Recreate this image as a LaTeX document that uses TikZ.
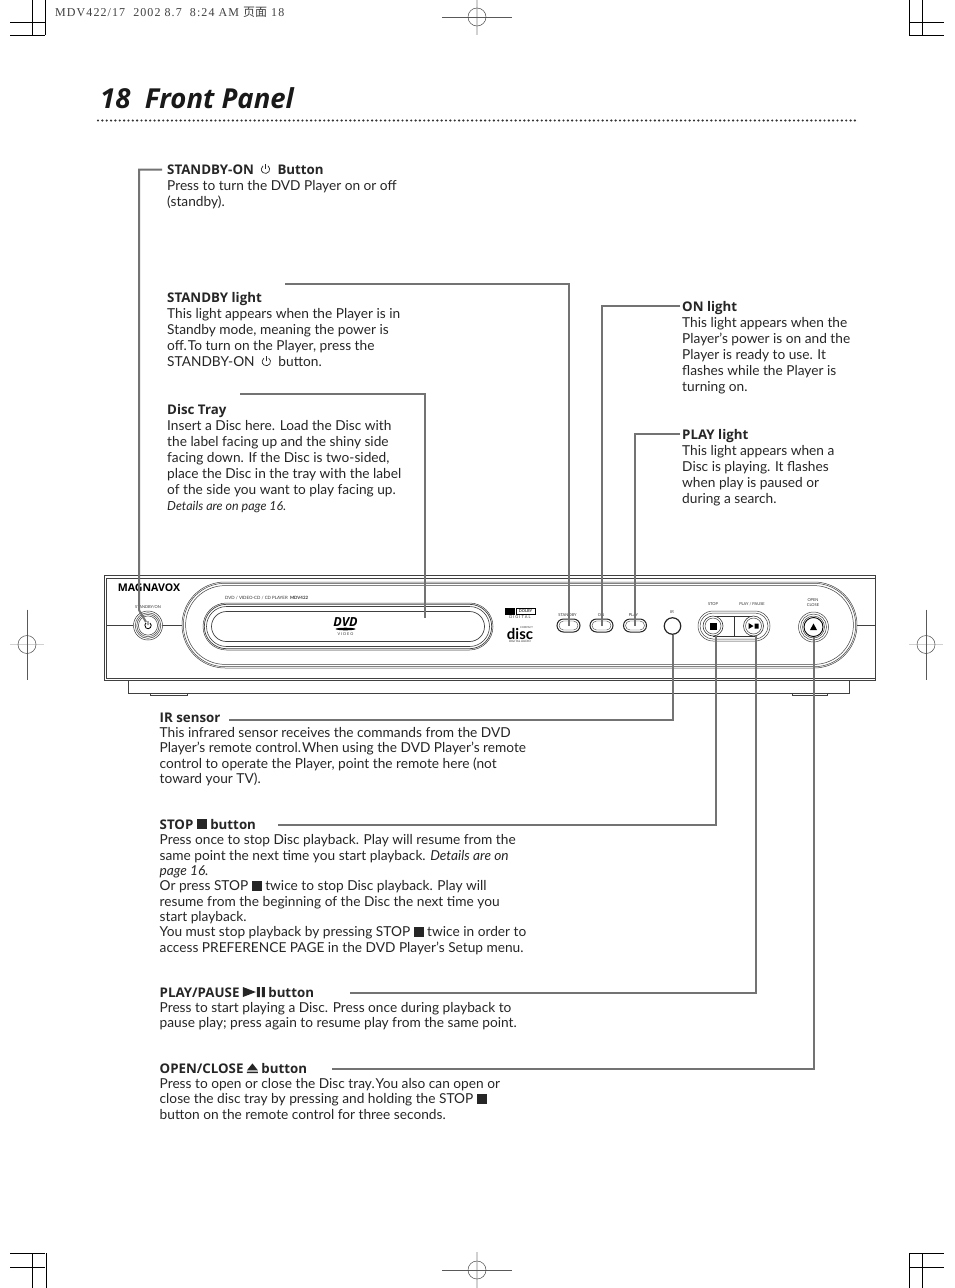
\documentclass[tikz,border=0pt]{standalone}
\usepackage{fontspec}
\setmainfont{Lato}
\newfontfamily\hdf{Open Sans}
\newfontfamily\cjkf{Noto Sans CJK SC}
\newfontfamily\serf[LetterSpace=9]{Liberation Serif}
\newfontfamily\djv{DejaVu Sans}
\newcommand{\pw}{\tikz[baseline=0pt,x=1pt,y=1pt,line width=.7pt]{\draw (0,4.8) -- (0,9.8); \draw (2.4,8.2) arc[start angle=55,delta angle=-290,radius=4.2pt];}}
\newcommand{\sq}{\tikz[baseline=0pt]{\fill[black!85] (0,-.3pt) rectangle (10pt,9.7pt);}}
\newcommand{\plp}{\tikz[baseline=0pt]{\fill[black!85] (0,0)--(0,10pt)--(13pt,5pt)--cycle (14pt,0) rectangle (17pt,10pt) (19pt,0) rectangle (22pt,10pt);}}
\newcommand{\ejt}{\tikz[baseline=0pt]{\fill[black!85] (0,0) rectangle (11pt,1.4pt) (0,2.6pt)--(11pt,2.6pt)--(5.5pt,9.6pt)--cycle;}}
\begin{document}
\begin{tikzpicture}[x=1pt,y=-1pt,
 pagebg/.style={fill=white,draw=none},
 hd/.style={anchor=base west,inner sep=0pt,text=black!85,font=\fontsize{13.3}{16}\selectfont\hdf\bfseries},
 bd/.style={anchor=north west,inner sep=0pt,align=left,text=black!85,font=\fontsize{13.7}{16}\selectfont},
 bdt/.style={bd,font=\fontsize{13.7}{15.35}\selectfont},
 leader/.style={draw=black!55,line width=2pt,line cap=butt,line join=miter},
 reg/.style={draw=black,line width=.7pt},
 regg/.style={draw=black!18,line width=1.4pt},
 regd/.style={draw=black!65,line width=.7pt},
 dev/.style={draw=black!75,line width=.5pt},
 tiny/.style={inner sep=0pt,text=black!80,font=\fontsize{4}{5}\selectfont,align=center},
 pill/.style={rounded corners=6.5pt,draw=black!85,line width=1pt,minimum width=23pt,minimum height=13pt,inner sep=0pt},
]
\useasboundingbox[pagebg] (0,0) rectangle (954,1288);
% --- registration marks
\draw[reg] (10,22.5)--(45,22.5) (10,35)--(45,35) (32,0)--(32,35) (45,0)--(45,35);
\draw[reg] (909,22.5)--(944,22.5) (909,35)--(944,35) (909,0)--(909,35) (922,0)--(922,35);
\draw[reg] (10,1253)--(45,1253) (10,1267)--(45,1267) (32,1253)--(32,1288) (46,1253)--(46,1288);
\draw[reg] (909,1253)--(944,1253) (909,1267)--(944,1267) (909,1253)--(909,1288) (922,1253)--(922,1288);
\foreach \cx/\cy in {477/17,477/1270}{
 \draw[regg] (\cx,\cy-18)--(\cx,\cy+18);
 \draw[regd] (\cx-35,\cy)--(\cx+35,\cy);
 \draw[draw=black!70,line width=.5pt] (\cx,\cy) circle[radius=9];
}
\foreach \cx/\cy in {27/644.5,926/644.5}{
 \draw[regg] (\cx-17,\cy)--(\cx+17,\cy);
 \draw[regd] (\cx,\cy-35)--(\cx,\cy+35);
 \draw[draw=black!70,line width=.5pt] (\cx,\cy) circle[radius=9];
}
\node[anchor=base west,inner sep=0pt,text=black!75,font=\fontsize{12}{14}\selectfont\serf] (stamp) at (55,16) {MDV422/17\ \ 2002 8.7\ \ 8:24 AM {\cjkf 页面} 18};
% --- title
\node[anchor=base west,inner sep=0pt,text=black!90,font=\fontsize{27.5}{32}\selectfont\hdf\bfseries\itshape] (title) at (100,108) {18\ \ Front Panel};
\draw[black!80,line width=2.4pt,line cap=round,dash pattern=on 0pt off 4.35pt] (98,120.5)--(857,120.5);
% --- device
\draw[dev,line width=.8pt] (128,680)--(128,693)--(849,693)--(849,680);
\draw[dev] (150,693)--(150,695)--(187,695)--(187,693);
\draw[dev] (792,693)--(792,695)--(827,695)--(827,693);
\draw[dev,line width=.9pt] (104,575) rectangle (875,680);
\draw[dev,line width=.4pt] (106,578)--(875,578) (106,578)--(106,678)--(875,678);
\foreach \o in {0,1.3,3.6}{
 \draw[dev,rounded corners=43pt-\o pt] (182+\o,582+\o) rectangle (857-\o,668-\o);}
\foreach \o/\w in {0/.5,1.3/.7,3.5/.6,8.5/.7}{
 \draw[dev,line width=\w pt,rounded corners=23.5pt-\o pt] (203+\o,603+\o) rectangle (493-\o,650-\o);}
\draw[dev] (106,625)--(133,625) (163,625)--(182,625) (857,625)--(875,625);
% power button
\node[circle,draw=black!80,line width=.5pt,inner sep=0pt,minimum size=29pt] (power) at (148,625.5) {};
\draw[dev] (power.center) circle[radius=12.8] (power.center) circle[radius=11.2] (power.center) circle[radius=9.6];
\draw[black,line width=.8pt] (150.06,623.05) arc[start angle=-50,delta angle=280,radius=3.2] (148,621)--(148,625);
% lights
\node[pill] (lstandby) at (568.5,625.5) {};
\node[pill] (lon) at (601.5,625.5) {};
\node[pill] (lplay) at (635,625.5) {};
\foreach \c in {568.5,601.5,635}{
 \draw[dev,line width=.4pt,rounded corners=4.5pt] (\c-9.5,621) rectangle (\c+9.5,630);}
\node[circle,draw=black!85,line width=1.2pt,inner sep=0pt,minimum size=16.5pt] (ir) at (672.5,626) {};
\draw[dev,rounded corners=15pt] (698,611) rectangle (770,641);
\draw[dev,rounded corners=13pt] (700,613) rectangle (768,639);
\draw[black!80,line width=.8pt] (713,616)--(755,616) (713,636)--(755,636) (734,616)--(734,636);
\node[circle,draw=black!80,fill=white,line width=.6pt,inner sep=0pt,minimum size=20pt] (bstop) at (713,626) {};
\draw[dev] (bstop.center) circle[radius=8];
\fill[black] (709.5,622.5) rectangle (716.5,629.5);
\node[circle,draw=black!80,fill=white,line width=.6pt,inner sep=0pt,minimum size=20pt] (bplay) at (753.5,626) {};
\draw[dev] (bplay.center) circle[radius=8];
\fill[black] (748.5,623)--(753.5,626)--(748.5,629)--cycle (754.5,623.5) rectangle (758.5,628.5);
\node[circle,draw=black,line width=.9pt,inner sep=0pt,minimum size=19pt] (bopen) at (813.5,627) {};
\draw[dev] (bopen.center) circle[radius=15] (bopen.center) circle[radius=13] (bopen.center) circle[radius=11];
\fill[black] (810,630)--(813.5,623.5)--(817,630)--cycle;
% device text
\node[inner sep=0pt,text=black,font=\fontsize{10.6}{12}\selectfont\hdf\bfseries] (brand) at (149,587.5) {MAGNAVOX};
\node[tiny] (tson) at (148,607.5) {STANDBY/ON};
\node[tiny,anchor=west,font=\fontsize{4.4}{5}\selectfont] (tmodel) at (225,598) {DVD / VIDEO-CD / CD PLAYER\ \ \textbf{MDV422}};
\node[inner sep=0pt,text=black,font=\fontsize{12.5}{12}\selectfont\hdf\bfseries\itshape] (dvd) at (345.5,622.5) {DVD};
\fill[black] (345.5,629) ellipse[x radius=10,y radius=1.3];
\node[tiny,font=\fontsize{3.8}{4}\selectfont] (video) at (345.5,634.5) {V I D E O};
\fill[black] (505,608) rectangle (514.5,614.5);
\draw[black,line width=.5pt] (516,608) rectangle (535,614.5);
\node[tiny,font=\fontsize{4}{5}\selectfont\bfseries] (dolby) at (525.5,611.3) {DOLBY};
\node[tiny,font=\fontsize{4}{5}\selectfont] (digital) at (520,617.5) {D I G I T A L};
\node[inner sep=0pt,text=black,font=\fontsize{15}{15}\selectfont\bfseries] (cdisc) at (520,633.5) {disc};
\node[tiny,font=\fontsize{2.6}{4}\selectfont,anchor=west] (ccomp) at (520,628) {COMPACT};
\node[tiny,font=\fontsize{3}{4}\selectfont] (cdig) at (520,641.5) {DIGITAL AUDIO};
\node[tiny] (tstandby) at (567.5,615.5) {STANDBY};
\node[tiny] (ton) at (601,615.5) {ON};
\node[tiny] (tplay) at (633.5,615.5) {PLAY};
\node[tiny] (tir) at (672,612) {IR};
\node[tiny] (tstop) at (713,604.5) {STOP};
\node[tiny] (tpp) at (752,604.5) {PLAY / PAUSE};
\node[tiny] (topen) at (813,602.5) {OPEN\\[0pt]CLOSE};
\node[inner sep=0pt] (disctray) at (425,618) {};
% --- text blocks
\node[hd] (h1) at (167,174) {STANDBY-ON\ \ \pw\ \ Button};
\node[bd] (b1) at (167,180) {Press to turn the DVD Player on or off\\(standby).};
\node[hd] (h2) at (167,302) {STANDBY light};
\node[bd] (b2) at (167,308) {This light appears when the Player is in\\Standby mode, meaning the power is\\off.\kern1pt To turn on the Player, press the\\STANDBY-ON\ \ \pw\ \ button.};
\node[hd] (h3) at (167,414) {Disc Tray};
\node[bd] (b3) at (167,420) {Insert a Disc here. Load the Disc with\\the label facing up and the shiny side\\facing down. If the Disc is two-sided,\\place the Disc in the tray with the label\\of the side you want to play facing up.\\{\itshape\fontsize{12.5}{16}\selectfont Details are on page 16.}};
\node[hd] (h4) at (682,311) {ON light};
\node[bd] (b4) at (682,317) {This light appears when the\\Player’s power is on and the\\Player is ready to use. It\\flashes while the Player is\\turning on.};
\node[hd] (h5) at (682,439) {PLAY light};
\node[bd] (b5) at (682,445) {This light appears when a\\Disc is playing. It flashes\\when play is paused or\\during a search.};
\node[hd] (h6) at (159.5,722) {IR sensor};
\node[bdt] (b6) at (159.5,727) {This infrared sensor receives the commands from the DVD\\Player’s remote control.\kern1pt When using the DVD Player’s remote\\control to operate the Player, point the remote here (not\\toward your TV).};
\node[hd] (h7) at (159.5,829) {STOP \sq\ button};
\node[bdt] (b7) at (159.5,834.5) {Press once to stop Disc playback. Play will resume from the\\same point the next time you start playback. {\itshape Details are on}\\{\itshape page 16.}\\Or press STOP \sq\ twice to stop Disc playback. Play will\\resume from the beginning of the Disc the next time you\\start playback.\\You must stop playback by pressing STOP \sq\ twice in order to\\access PREFERENCE PAGE in the DVD Player’s Setup menu.};
\node[hd] (h8) at (159.5,997) {PLAY/PAUSE \plp\ button};
\node[bdt] (b8) at (159.5,1002) {Press to start playing a Disc. Press once during playback to\\pause play; press again to resume play from the same point.};
\node[hd] (h9) at (159.5,1073) {OPEN/CLOSE \ejt\ button};
\node[bdt] (b9) at (159.5,1078) {Press to open or close the Disc tray.\kern1pt You also can open or\\close the disc tray by pressing and holding the STOP \sq\\button on the remote control for three seconds.};
% --- leaders
\coordinate (s1) at (162,169.5);
\coordinate (bend1) at (139,610);
\coordinate (e1) at (146,622);
\coordinate (s2) at (285,284);
\coordinate (s3) at (240,394);
\coordinate (s4) at (680,306);
\coordinate (s5) at (680,434);
\coordinate (s6) at (229,720);
\coordinate (s7) at (278,825);
\coordinate (s8) at (350,993);
\coordinate (s9) at (332,1069);
\draw[leader] (s1) -| (bend1) -- (e1);
\draw[leader] (s2) -| (lstandby.center);
\draw[leader] (s3) -| (disctray.center);
\draw[leader] (s4) -| (lon.center);
\draw[leader] (s5) -| (lplay.center);
\draw[leader] (s6) -| (ir.south);
\draw[leader] (s7) -| (bstop.285);
\draw[leader] (s8) -| (bplay.285);
\draw[leader] (s9) -| (bopen.south);
\end{tikzpicture}
\end{document}
